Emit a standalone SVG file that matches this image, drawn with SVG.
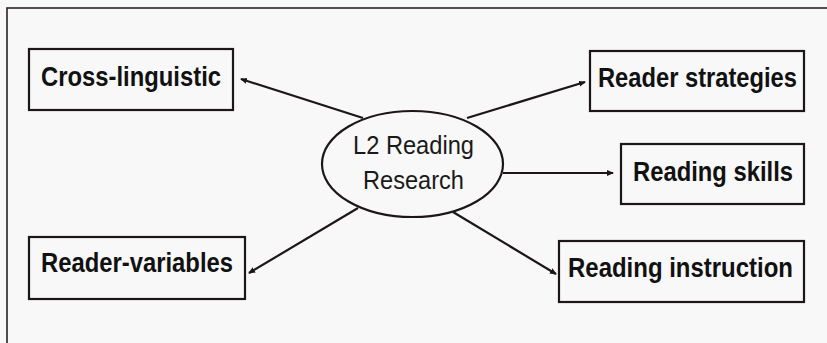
<svg xmlns="http://www.w3.org/2000/svg" width="827" height="343" viewBox="0 0 827 343">
<style>
.box{fill:none;stroke:#1c1618;stroke-width:2.2}
.lbl{font-family:"Liberation Sans",Arial,sans-serif;font-weight:bold;font-size:27px;fill:#111}
.ctr{font-family:"Liberation Sans",Arial,sans-serif;font-size:26px;fill:#1a1a1a}
.con{stroke:#1c1618;stroke-width:2.2;fill:none;marker-end:url(#ah)}
</style>
<defs>
<marker id="ah" markerWidth="8" markerHeight="8" refX="6" refY="3" orient="auto" markerUnits="userSpaceOnUse">
<path d="M0,0 L7,3 L0,6 Z" fill="#1c1618"/>
</marker>
</defs>
<rect x="0" y="0" width="827" height="343" fill="#f8f8f8"/>
<rect x="7" y="8" width="830" height="345" fill="none" stroke="#2a2224" stroke-width="1.6"/>
<g id="connectors">
<line class="con" x1="363" y1="118" x2="241" y2="79"/>
<line class="con" x1="467" y1="118" x2="585" y2="82"/>
<line class="con" x1="503" y1="173" x2="613" y2="173"/>
<line class="con" x1="453" y1="212" x2="556" y2="274"/>
<line class="con" x1="358" y1="208" x2="249" y2="273"/>
</g>
<g id="center">
<ellipse cx="412.5" cy="164" rx="90.5" ry="53" class="box"/>
<text class="ctr" x="413.5" y="154" text-anchor="middle" textLength="121" lengthAdjust="spacingAndGlyphs">L2 Reading</text>
<text class="ctr" x="413.5" y="189" text-anchor="middle" textLength="101" lengthAdjust="spacingAndGlyphs">Research</text>
</g>
<g id="cross-linguistic">
<rect x="29" y="49" width="204" height="61" class="box"/>
<text class="lbl" x="131" y="86" text-anchor="middle" textLength="180" lengthAdjust="spacingAndGlyphs">Cross-linguistic</text>
</g>
<g id="reader-variables">
<rect x="29" y="237" width="216" height="62" class="box"/>
<text class="lbl" x="137" y="272" text-anchor="middle" textLength="192" lengthAdjust="spacingAndGlyphs">Reader-variables</text>
</g>
<g id="reader-strategies">
<rect x="590" y="51" width="214" height="60" class="box"/>
<text class="lbl" x="697.5" y="87" text-anchor="middle" textLength="199" lengthAdjust="spacingAndGlyphs">Reader strategies</text>
</g>
<g id="reading-skills">
<rect x="621" y="144" width="183" height="60" class="box"/>
<text class="lbl" x="713" y="181" text-anchor="middle" textLength="160" lengthAdjust="spacingAndGlyphs">Reading skills</text>
</g>
<g id="reading-instruction">
<rect x="559" y="241" width="245" height="61" class="box"/>
<text class="lbl" x="680.5" y="277" text-anchor="middle" textLength="225" lengthAdjust="spacingAndGlyphs">Reading instruction</text>
</g>
</svg>
